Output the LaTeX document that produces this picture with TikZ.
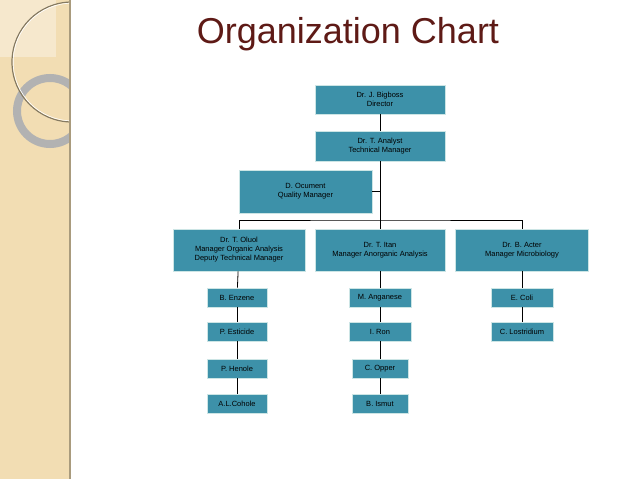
\documentclass[tikz,border=0pt]{standalone}
\usepackage{fontspec}
\setmainfont{Liberation Sans}
\begin{document}
\begin{tikzpicture}[x=1pt,y=-1pt,
  box/.style={draw=white!80!teal,line width=0.8pt,fill=boxc,align=center,font=\fontsize{7.5}{9}\selectfont,inner sep=0pt},
  ln/.style={draw=black,line width=0.8pt}]
\definecolor{boxc}{HTML}{3D91A9}
\definecolor{beige}{HTML}{F2DDB3}
\definecolor{titlec}{HTML}{5E1A16}
\useasboundingbox (0,0) rectangle (638,479);
\fill[white] (0,0) rectangle (638,479);
\fill[beige] (0,0) rectangle (70,479);
\begin{scope}
\clip (0,0) rectangle (70,479);
\fill[white,opacity=0.35] (0,0) rectangle (56,57);
\draw[color=gray!60,line width=8pt] (50,111) circle (33);
\draw[color=black!45!beige,line width=1.2pt] (72,62) circle (60);
\draw[color=white,line width=0.6pt] (72,62) circle (58.8);
\end{scope}
\draw[color=black!30!beige,line width=1.5pt] (70,0) -- (70,479);
\node[font=\fontsize{36}{40}\selectfont,text=titlec] (title) at (348,34) {Organization Chart};
\newcommand{\bx}[6]{\node[box,minimum width=#3,minimum height=#4] (#1) at (#2) {#5};}
\bx{big}{380,99.5}{130}{29}{Dr. J. Bigboss\\Director}{}
\bx{ana}{380,146}{130}{30}{Dr. T. Analyst\\Technical Manager}{}
\bx{qm}{305.5,191.5}{133}{43}{D. Ocument\\Quality Manager}{}
\bx{oa}{239,250}{132}{42}{Dr. T. Oluol\\Manager Organic Analysis\\Deputy Technical Manager}{}
\bx{ia}{380,250}{130}{42}{Dr. T. Itan\\Manager Anorganic Analysis}{}
\bx{mb}{522,250}{133}{42}{Dr. B. Acter\\Manager Microbiology}{}
\bx{a1}{237,297.5}{60}{19}{B. Enzene}{}
\bx{a2}{237,331.5}{60}{19}{P. Esticide}{}
\bx{a3}{237,368.5}{60}{19}{P. Henole}{}
\bx{a4}{237,404}{60}{19}{A.L.Cohole}{}
\bx{b1}{380,297.5}{62}{19}{M. Anganese}{}
\bx{b2}{380,331.5}{62}{19}{I. Ron}{}
\bx{b3}{380,368.5}{56}{19}{C. Opper}{}
\bx{b4}{380,404}{56}{19}{B. Ismut}{}
\bx{c1}{522,297.5}{62}{19}{E. Coli}{}
\bx{c2}{522,331.5}{62}{19}{C. Lostridium}{}
\coordinate (j) at (380,220);
\draw[ln] (big) -- (ana);
\draw[ln] (ana) -- (j);
\draw[ln] (qm.east) -- (qm.east -| ana);
\draw[ln] (oa.north) |- (j) -| (mb.north);
\draw[ln] (j) -- (ia);
\draw[ln] (oa) -- (a1); \draw[ln] (a1) -- (a2); \draw[ln] (a2) -- (a3); \draw[ln] (a3) -- (a4);
\draw[ln] (ia) -- (b1); \draw[ln] (b1) -- (b2); \draw[ln] (b2) -- (b3); \draw[ln] (b3) -- (b4);
\draw[ln] (mb) -- (c1); \draw[ln] (c1) -- (c2);
\end{tikzpicture}
\end{document}
